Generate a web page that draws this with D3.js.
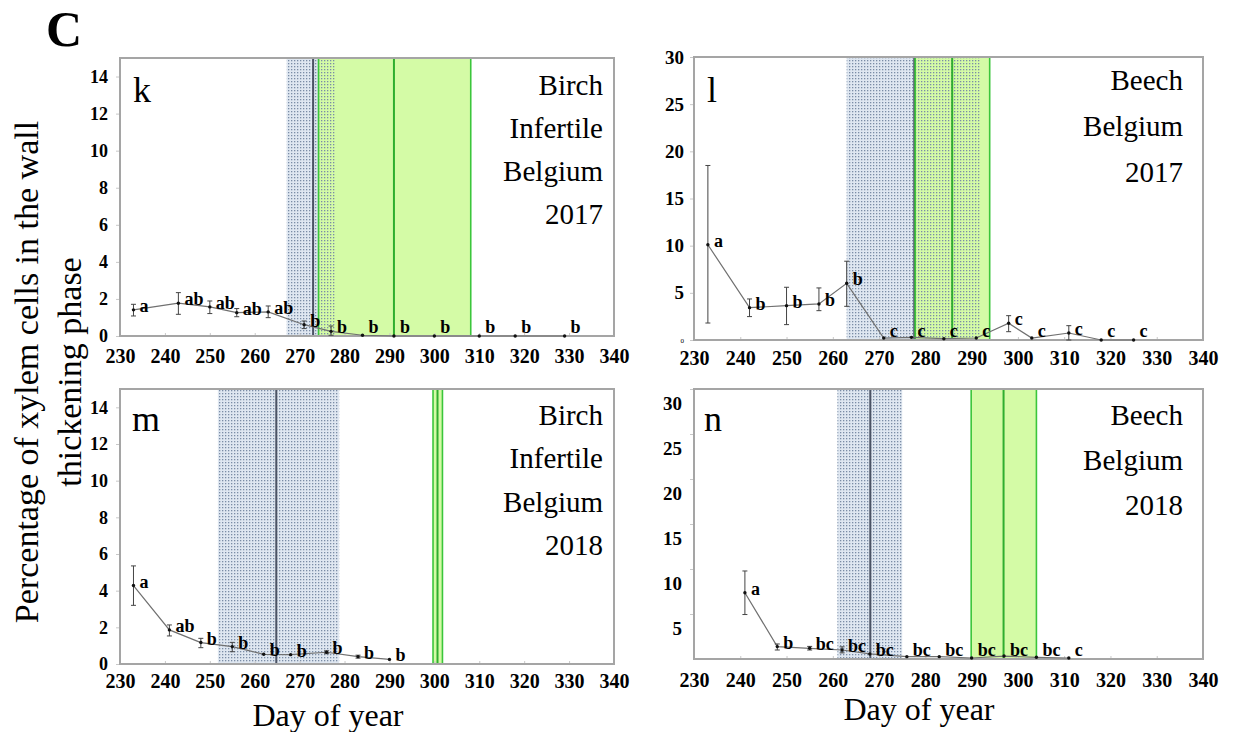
<!DOCTYPE html>
<html><head><meta charset="utf-8">
<script src="https://cdn.jsdelivr.net/npm/d3@7"></script>
<style>
body{margin:0;background:#fff}
svg{display:block}
text{font-family:"Liberation Serif","Times New Roman",serif}
</style>
</head><body>
<svg id="c" width="1234" height="732"></svg>
<script>
// ---------- DATA ----------
const xTicks = [230, 240, 250, 260, 270, 280, 290, 300, 310, 320, 330, 340];
const yTicksK = [0, 2, 4, 6, 8, 10, 12, 14];
const yTicksL = [0, 5, 10, 15, 20, 25, 30];
const yTicksM = [0, 2, 4, 6, 8, 10, 12, 14];
const yTicksN = [5, 10, 15, 20, 25, 30];

// panel k: Birch Infertile Belgium 2017
const daysK    = [233, 243, 250, 256, 263, 271, 277, 284, 291, 300, 310, 318, 329];
const meanK    = [1.41, 1.77, 1.57, 1.26, 1.30, 0.61, 0.25, 0.04, 0, 0, 0, 0, 0];
const upperK   = [1.71, 2.34, 1.89, 1.48, 1.62, 0.81, 0.54, null, null, null, null, null, null];
const lowerK   = [1.08, 1.17, 1.21, 1.04, 0.99, 0.40, 0.04, null, null, null, null, null, null];
const lettersK = ["a", "ab", "ab", "ab", "ab", "b", "b", "b", "b", "b", "b", "b", "b"];
const blueK  = [267.1, 273.0, 278.1];   // start, mean, end
const greenK = [274.2, 291.0, 308.1];
const infoK  = ["Birch", "Infertile", "Belgium", "2017"];

// panel l: Beech Belgium 2017
const daysL    = [233, 242, 250, 257, 263, 271, 277, 284, 291, 298, 303, 311, 318, 325];
const meanL    = [10.1, 3.43, 3.64, 3.82, 6.01, 0.21, 0.28, 0.14, 0.21, 1.77, 0.21, 0.74, 0, 0];
const upperL   = [18.5, 4.35, 5.59, 5.52, 8.35, null, null, null, null, 2.58, null, 1.52, null, null];
const lowerL   = [1.8, 2.48, 1.63, 3.11, 3.57, null, null, null, null, 0.88, null, 0.0, null, null];
const lettersL = ["a", "b", "b", "b", "b", "c", "c", "c", "c", "c", "c", "c", "c", "c"];
const blueL  = [263.0, 277.6, 291.8];
const greenL = [277.8, 285.8, 293.9];
const infoL  = ["Beech", "Belgium", "2017"];

// panel m: Birch Infertile Belgium 2018
const daysM    = [233, 241, 248, 255, 262, 268, 276, 283, 290];
const meanM    = [4.28, 1.86, 1.17, 0.95, 0.53, 0.51, 0.64, 0.40, 0.25];
const upperM   = [5.35, 2.13, 1.40, 1.18, null, null, 0.72, 0.48, null];
const lowerM   = [3.20, 1.53, 0.89, 0.67, null, null, 0.56, 0.32, null];
const lettersM = ["a", "ab", "b", "b", "b", "b", "b", "b", "b"];
const blueM  = [251.8, 264.8, 278.8];
const greenM = [299.7, 300.7, 301.8];
const infoM  = ["Birch", "Infertile", "Belgium", "2018"];

// panel n: Beech Belgium 2018
const daysN    = [241, 248, 255, 262, 268, 276, 283, 290, 297, 304, 311];
const meanN    = [7.36, 1.38, 1.19, 1.00, 0.56, 0.26, 0.26, 0.11, 0.33, 0.19, 0.11];
const upperN   = [9.78, 1.67, 1.40, 1.35, null, null, null, null, null, null, null];
const lowerN   = [4.94, 1.00, 1.00, 0.68, null, null, null, null, null, null, null];
const lettersN = ["a", "b", "bc", "bc", "bc", "bc", "bc", "bc", "bc", "bc", "c"];
const blueN  = [261.0, 268.1, 275.0];
const greenN = [289.9, 296.9, 304.0];
const infoN  = ["Beech", "Belgium", "2018"];

// ---------- LAYOUT ----------
const SERIF = '"Liberation Serif", "Times New Roman", serif';
const svg = d3.select("#c");
const defs = svg.append("defs");
const pat = defs.append("pattern").attr("id", "dots")
  .attr("width", 3).attr("height", 3).attr("patternUnits", "userSpaceOnUse");
pat.append("rect").attr("x", 0).attr("y", 0).attr("width", 1.3).attr("height", 1.3).attr("fill", "#7a8ca6");

const panels = [
  {id: "k", days: daysK, mean: meanK, upper: upperK, lower: lowerK, letters: lettersK,
   blue: blueK, green: greenK, info: infoK, yTicks: yTicksK, ymax: 15,
   frame: {x0: 120, x1: 614, y0: 58, y1: 336}, xPad: 13, yPad: 8, yFont: 18, yShift: 0,
   infoTop: 37, infoGap: 43, infoRight: 11, letterDx: 13, letterDy: 44},
  {id: "l", days: daysL, mean: meanL, upper: upperL, lower: lowerL, letters: lettersL,
   blue: blueL, green: greenL, info: infoL, yTicks: yTicksL, ymax: 30,
   frame: {x0: 694, x1: 1203, y0: 57, y1: 340}, xPad: 11, yPad: 6, yFont: 19, yShift: 0,
   infoTop: 33, infoGap: 46, infoRight: 20, letterDx: 13, letterDy: 45},
  {id: "m", days: daysM, mean: meanM, upper: upperM, lower: lowerM, letters: lettersM,
   blue: blueM, green: greenM, info: infoM, yTicks: yTicksM, ymax: 15,
   frame: {x0: 120, x1: 614, y0: 389, y1: 664}, xPad: 10, yPad: 8, yFont: 18, yShift: 0,
   infoTop: 36, infoGap: 43.3, infoRight: 11, letterDx: 12, letterDy: 42},
  {id: "n", days: daysN, mean: meanN, upper: upperN, lower: lowerN, letters: lettersN,
   blue: blueN, green: greenN, info: infoN, yTicks: yTicksN, ymax: 30,
   frame: {x0: 694, x1: 1203, y0: 389, y1: 659}, xPad: 14, yPad: 8, yFont: 19, yShift: 14,
   infoTop: 36, infoGap: 45, infoRight: 20, letterDx: 10, letterDy: 42}
];

const GREEN_FILL = "#d4fba6", GREEN_LINE = "#3bc63b", BLUE_FILL = "#dfe7f1", MEAN_LINE = "#4b5364";

function vline(g, xv, y0, y1, color, w) {
  g.append("line").attr("x1", xv).attr("x2", xv).attr("y1", y0).attr("y2", y1)
    .attr("stroke", color).attr("stroke-width", w);
}

panels.forEach(p => {
  const {x0, x1, y0, y1} = p.frame;
  const x = d3.scaleLinear().domain([230, 340]).range([x0, x1]);
  const y = d3.scaleLinear().domain([0, p.ymax]).range([y1, y0]);
  const g = svg.append("g").attr("class", "panel-" + p.id);

  // shaded periods
  g.append("rect").attr("x", x(p.blue[0])).attr("y", y0)
    .attr("width", x(p.blue[2]) - x(p.blue[0])).attr("height", y1 - y0).attr("fill", BLUE_FILL);
  g.append("rect").attr("x", x(p.green[0])).attr("y", y0)
    .attr("width", x(p.green[2]) - x(p.green[0])).attr("height", y1 - y0).attr("fill", GREEN_FILL);
  g.append("rect").attr("x", x(p.blue[0])).attr("y", y0)
    .attr("width", x(p.blue[2]) - x(p.blue[0])).attr("height", y1 - y0).attr("fill", "url(#dots)");
  vline(g, x(p.blue[1]), y0, y1, MEAN_LINE, 2);
  vline(g, x(p.green[0]), y0, y1, GREEN_LINE, 1.6);
  vline(g, x(p.green[2]), y0, y1, GREEN_LINE, 1.6);
  vline(g, x(p.green[1]), y0, y1, "#2fae2f", 2);

  // y axis
  const ya = d3.axisLeft(y).tickValues(p.yTicks).tickSize(4).tickPadding(p.yPad).tickFormat(d3.format("d"));
  const yg = g.append("g").attr("transform", `translate(${x0},0)`).call(ya)
    .attr("font-family", SERIF).attr("font-size", p.yFont).attr("font-weight", "bold");
  yg.select(".domain").remove();
  yg.selectAll(".tick line").attr("stroke", "#c8c8c8");
  yg.selectAll(".tick text").attr("fill", "#000").style("font-family", SERIF)
    .attr("transform", `translate(0,${p.yShift})`);
  if (p.id === "l") yg.selectAll(".tick text").filter(d => d === 0).attr("font-size", 7).attr("font-weight", "normal");

  // x axis
  const xa = d3.axisBottom(x).tickValues(xTicks).tickSizeInner(-3).tickSizeOuter(0).tickPadding(p.xPad);
  const xg = g.append("g").attr("transform", `translate(0,${y1})`).call(xa)
    .attr("font-family", SERIF).attr("font-size", 20).attr("font-weight", "bold");
  xg.select(".domain").remove();
  xg.selectAll(".tick line").attr("stroke", "#c8c8c8");
  xg.selectAll(".tick text").attr("fill", "#000").style("font-family", SERIF);

  // frame
  g.append("rect").attr("x", x0).attr("y", y0).attr("width", x1 - x0).attr("height", y1 - y0)
    .attr("fill", "none").attr("stroke", "#a5a5a5").attr("stroke-width", 2);

  // data
  const pts = p.days.map((d, i) => ({d, v: p.mean[i], hi: p.upper[i], lo: p.lower[i], t: p.letters[i]}));
  g.append("path").datum(pts)
    .attr("d", d3.line().x(d => x(d.d)).y(d => y(d.v)))
    .attr("fill", "none").attr("stroke", "#707070").attr("stroke-width", 1.2);

  const eb = g.selectAll(".eb").data(pts.filter(d => d.hi != null)).join("g").attr("class", "eb")
    .attr("stroke", "#444").attr("stroke-width", 1);
  eb.append("line").attr("x1", d => x(d.d)).attr("x2", d => x(d.d)).attr("y1", d => y(d.lo)).attr("y2", d => y(d.hi));
  eb.append("line").attr("x1", d => x(d.d) - 2.5).attr("x2", d => x(d.d) + 2.5).attr("y1", d => y(d.hi)).attr("y2", d => y(d.hi));
  eb.append("line").attr("x1", d => x(d.d) - 2.5).attr("x2", d => x(d.d) + 2.5).attr("y1", d => y(d.lo)).attr("y2", d => y(d.lo));

  g.selectAll(".pt").data(pts).join("circle").attr("class", "pt")
    .attr("cx", d => x(d.d)).attr("cy", d => y(d.v)).attr("r", 1.7).attr("fill", "#111");

  g.selectAll(".lt").data(pts).join("text").attr("class", "lt")
    .attr("x", d => x(d.d) + 6).attr("y", d => Math.min(y(d.v) + 2, y1 - 3))
    .style("font-family", SERIF)
    .attr("font-size", 18).attr("font-weight", "bold").attr("fill", "#000").text(d => d.t);

  // panel letter and info
  g.append("text").attr("x", x0 + p.letterDx).attr("y", y0 + p.letterDy).style("font-family", SERIF)
    .attr("font-size", 36).attr("fill", "#000").text(p.id);
  g.selectAll(".info").data(p.info).join("text").attr("class", "info")
    .attr("x", x1 - p.infoRight).attr("y", (d, i) => y0 + p.infoTop + i * p.infoGap)
    .style("font-family", SERIF)
    .attr("text-anchor", "end").attr("font-size", 29).attr("fill", "#000").text(d => d);
});

// titles
svg.append("text").attr("x", 46).attr("y", 46).attr("font-size", 50).attr("font-weight", "bold").text("C");
svg.append("text").attr("transform", "translate(38,372) rotate(-90)").attr("text-anchor", "middle")
  .attr("font-size", 34).text("Percentage of xylem cells in the wall");
svg.append("text").attr("transform", "translate(81,372) rotate(-90)").attr("text-anchor", "middle")
  .attr("font-size", 34).text("thickening phase");
svg.append("text").attr("x", 328).attr("y", 726).attr("text-anchor", "middle").attr("font-size", 32).text("Day of year");
svg.append("text").attr("x", 919).attr("y", 720).attr("text-anchor", "middle").attr("font-size", 32).text("Day of year");
</script>
</body></html>
